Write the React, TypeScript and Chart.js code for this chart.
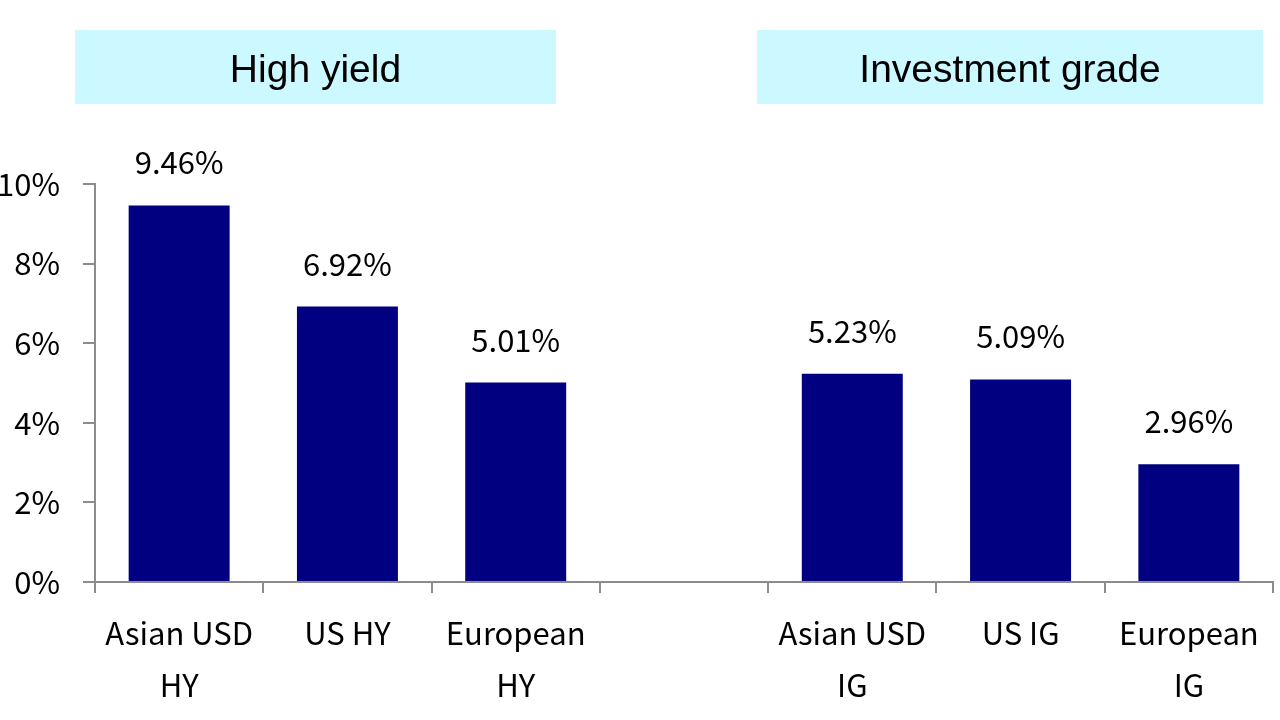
import React, { useEffect, useRef } from "react";
import { Chart, registerables } from "chart.js";

Chart.register(...registerables);

const categories: (string | string[])[] = [
  ["Asian USD", "HY"],
  "US HY",
  ["European", "HY"],
  "",
  ["Asian USD", "IG"],
  "US IG",
  ["European", "IG"],
];
const yields: (number | null)[] = [9.46, 6.92, 5.01, null, 5.23, 5.09, 2.96];
const groupTitles = ["High yield", "Investment grade"];

const LABEL_FONT = "'Noto Sans CJK KR', 'Noto Sans', sans-serif";

const headerPlugin = {
  id: "headers",
  beforeDraw(chart: any) {
    const ctx = chart.ctx;
    const boxes = [
      { x0: 75, x1: 556, title: groupTitles[0] },
      { x0: 757, x1: 1263, title: groupTitles[1] },
    ];
    ctx.save();
    for (const b of boxes) {
      ctx.fillStyle = "#CCF8FF";
      ctx.fillRect(b.x0, 30, b.x1 - b.x0, 74);
      ctx.fillStyle = "#000";
      ctx.font = "39px 'Liberation Sans', Arial, sans-serif";
      ctx.textAlign = "center";
      ctx.textBaseline = "alphabetic";
      ctx.fillText(b.title, (b.x0 + b.x1) / 2, 82);
    }
    ctx.restore();
  },
};

const valueLabelPlugin = {
  id: "valueLabels",
  afterDatasetsDraw(chart: any) {
    const ctx = chart.ctx;
    const meta = chart.getDatasetMeta(0);
    ctx.save();
    ctx.fillStyle = "#000";
    ctx.font = `31px ${LABEL_FONT}`;
    ctx.textAlign = "center";
    ctx.textBaseline = "alphabetic";
    meta.data.forEach((bar: any, i: number) => {
      const v = yields[i];
      if (v === null || v === undefined) return;
      ctx.fillText(v.toFixed(2) + "%", bar.x, bar.y - 31);
    });
    ctx.restore();
  },
};

export default function App() {
  const ref = useRef<HTMLCanvasElement | null>(null);

  useEffect(() => {
    if (!ref.current) return;
    const chart = new Chart(ref.current, {
      type: "bar",
      data: {
        labels: categories as any,
        datasets: [
          {
            data: yields,
            backgroundColor: "#000080",
            borderWidth: 0,
            barPercentage: 0.6,
            categoryPercentage: 1,
          },
        ],
      },
      options: {
        animation: false,
        responsive: false,
        maintainAspectRatio: false,
        layout: { padding: { top: 184, right: 7, left: 0, bottom: 0 } },
        plugins: {
          legend: { display: false },
          tooltip: { enabled: false },
        },
        scales: {
          x: {
            afterFit: (scale: any) => {
              scale.height = 138;
            },
            grid: {
              offset: true,
              drawOnChartArea: false,
              drawTicks: true,
              tickLength: 11,
              color: "#8c8c8c",
              lineWidth: 2,
            },
            border: { color: "#8c8c8c", width: 2 },
            ticks: {
              color: "#000",
              font: { family: LABEL_FONT, size: 31, lineHeight: 1.65 },
              padding: 15,
              maxRotation: 0,
              autoSkip: false,
            },
          },
          y: {
            min: 0,
            max: 10,
            afterFit: (scale: any) => {
              scale.width = 95;
            },
            grid: {
              drawOnChartArea: false,
              drawTicks: true,
              tickLength: 12,
              color: "#8c8c8c",
              lineWidth: 2,
            },
            border: { color: "#8c8c8c", width: 2 },
            ticks: {
              stepSize: 2,
              color: "#000",
              padding: 23,
              font: { family: LABEL_FONT, size: 31 },
              callback: (v: any) => v + "%",
            },
          },
        },
      },
      plugins: [headerPlugin, valueLabelPlugin],
    });
    return () => chart.destroy();
  }, []);

  return (
    <div
      style={{
        position: "fixed",
        left: 0,
        top: 0,
        width: 1280,
        height: 720,
        background: "#fff",
      }}
    >
      <canvas ref={ref} width={1280} height={720} style={{ width: 1280, height: 720 }} />
    </div>
  );
}
